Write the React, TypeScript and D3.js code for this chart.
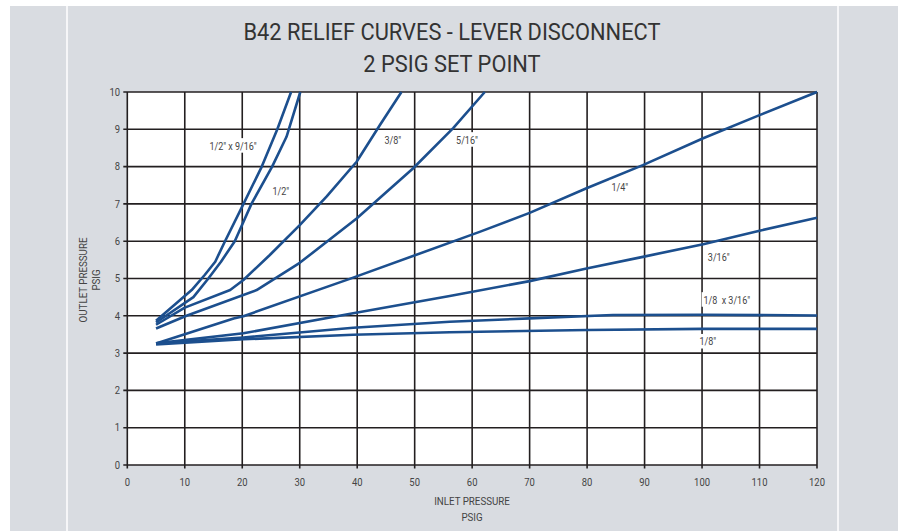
import React, { useEffect, useRef } from "react";
import * as d3 from "d3";

const titleLines = ["B42 RELIEF CURVES - LEVER DISCONNECT", "2 PSIG SET POINT"];
const xTicks = [0, 10, 20, 30, 40, 50, 60, 70, 80, 90, 100, 110, 120];
const yTicks = [0, 1, 2, 3, 4, 5, 6, 7, 8, 9, 10];
const xTitle = ["INLET PRESSURE", "PSIG"];
const yTitle = ["OUTLET PRESSURE", "PSIG"];

const sHalf916: [number, number][] = [[5, 3.87], [11.2, 4.69], [13.5, 5.1], [15.3, 5.45], [17, 6], [19.9, 6.9], [23.4, 8], [26.1, 9], [28.5, 10]];
const sHalf: [number, number][] = [[5, 3.82], [11.5, 4.5], [14.1, 5], [16.3, 5.45], [18.7, 6], [21.6, 7], [25.2, 8], [27.7, 8.8], [30.1, 10]];
const s38: [number, number][] = [[5, 3.76], [10, 4.22], [17.9, 4.69], [20.2, 4.96], [24.8, 5.63], [30, 6.43], [34.7, 7.2], [39.9, 8.13], [43.9, 9.1], [47.7, 10]];
const s516: [number, number][] = [[5, 3.66], [10.3, 4.0], [22.5, 4.69], [30, 5.42], [39.9, 6.61], [49.7, 7.95], [56.7, 9.03], [62.2, 10]];
const s14: [number, number][] = [[5, 3.26], [18.5, 3.93], [20.2, 3.99], [38.7, 4.99], [61.3, 6.25], [70, 6.76], [79.9, 7.42], [89.7, 8.04], [100.2, 8.76], [110, 9.38], [120, 10.0]];
const s316: [number, number][] = [[5, 3.26], [20.2, 3.53], [39.3, 4.07], [56.1, 4.53], [70, 4.93], [79.9, 5.27], [89.7, 5.58], [100.2, 5.92], [110, 6.28], [120, 6.63]];
const s18x316: [number, number][] = [[5, 3.26], [20.2, 3.42], [39.3, 3.68], [56.1, 3.84], [70, 3.93], [84.5, 4.02], [100, 4.03], [120, 4.01]];
const s18: [number, number][] = [[5, 3.23], [20.2, 3.37], [39.3, 3.49], [56.1, 3.56], [80, 3.62], [100, 3.65], [120, 3.65]];

const seriesList = [sHalf916, sHalf, s38, s516, s14, s316, s18x316, s18];

const labelTexts = ['1/2" x 9/16"', '1/2"', '3/8"', '5/16"', '1/4"', '3/16"', '1/8  x 3/16"', '1/8"'];
const labelX = [18.4, 26.7, 46.2, 59.1, 85.7, 102.9, 104.3, 101.0];
const labelY = [8.55, 7.32, 8.71, 8.71, 7.43, 5.55, 4.42, 3.30];

const W = 898;
const H = 531;
const FONT = "Roboto, 'DejaVu Sans', sans-serif";

type Sel = d3.Selection<any, unknown, null, undefined>;

function addText(parent: Sel, x: number, y: number, t: string, size: number, anchor: string, sx: number, fill = "#444444") {
  const g = parent.append("g").attr("transform", `translate(${x},${y}) scale(${sx},1)`);
  const txt = g.append("text").attr("x", 0).attr("y", 0).attr("text-anchor", anchor)
    .attr("font-family", FONT).attr("font-size", size).attr("fill", fill)
    .style("white-space", "pre").text(t);
  return { g, txt };
}

export default function App() {
  const ref = useRef<SVGSVGElement | null>(null);

  useEffect(() => {
    const svg = d3.select(ref.current) as unknown as Sel;
    svg.selectAll("*").remove();

    svg.append("rect").attr("x", 0).attr("y", 0).attr("width", W).attr("height", H).attr("fill", "#ffffff");
    svg.append("rect").attr("x", 10).attr("y", 6).attr("width", W - 10).attr("height", H - 6).attr("fill", "#d9dce1");
    [67, 838].forEach((x) => {
      svg.append("line").attr("x1", x).attr("x2", x).attr("y1", 6).attr("y2", H).attr("stroke", "#ffffff").attr("stroke-width", 1.5);
    });

    const x = d3.scaleLinear().domain([0, 120]).range([127.3, 817]);
    const y = d3.scaleLinear().domain([0, 10]).range([465, 92]);

    titleLines.forEach((t, i) => {
      addText(svg, 452, 40 + i * 32, t, 24, "middle", 0.91, "#333333");
    });

    svg.append("rect").attr("x", x(0)).attr("y", y(10)).attr("width", x(120) - x(0)).attr("height", y(0) - y(10)).attr("fill", "#ffffff");

    const g = svg.append("g") as Sel;
    xTicks.forEach((v) => {
      g.append("line").attr("x1", x(v)).attr("x2", x(v)).attr("y1", y(10)).attr("y2", y(0) + 3.5)
        .attr("stroke", "#231f20").attr("stroke-width", 1.6);
      addText(g, x(v), 486, String(v), 10.5, "middle", 0.9);
    });
    yTicks.forEach((v) => {
      g.append("line").attr("x1", x(0) - 4).attr("x2", x(120)).attr("y1", y(v)).attr("y2", y(v))
        .attr("stroke", "#231f20").attr("stroke-width", 1.6);
      addText(g, 120, y(v) + 3.7, String(v), 10.5, "end", 0.9);
    });

    xTitle.forEach((t, i) => {
      addText(svg, 472, 505 + i * 16, t, 10.5, "middle", 0.93);
    });
    yTitle.forEach((t, i) => {
      const gg = svg.append("g").attr("transform", `translate(${87 + i * 13},280) rotate(-90)`) as Sel;
      addText(gg, 0, 0, t, 10.5, "middle", 0.93);
    });

    const line = d3.line<[number, number]>().x((d) => x(d[0])).y((d) => y(d[1])).curve(d3.curveLinear);
    seriesList.forEach((s) => {
      svg.append("path").attr("d", line(s) as string).attr("fill", "none")
        .attr("stroke", "#1c4f8e").attr("stroke-width", 2.6).attr("stroke-linejoin", "round");
    });

    labelTexts.forEach((t, i) => {
      const { g: lg, txt } = addText(svg, x(labelX[i]), y(labelY[i]) + 3.5, t, 10, "middle", 0.9);
      const bb = (txt.node() as SVGTextElement).getBBox();
      lg.insert("rect", "text").attr("fill", "#ffffff")
        .attr("x", bb.x - 2).attr("y", bb.y - 2).attr("width", bb.width + 4).attr("height", bb.height + 3);
    });
  }, []);

  return (
    <svg ref={ref} width={W} height={H} style={{ position: "absolute", left: 0, top: 0, display: "block" }} />
  );
}
